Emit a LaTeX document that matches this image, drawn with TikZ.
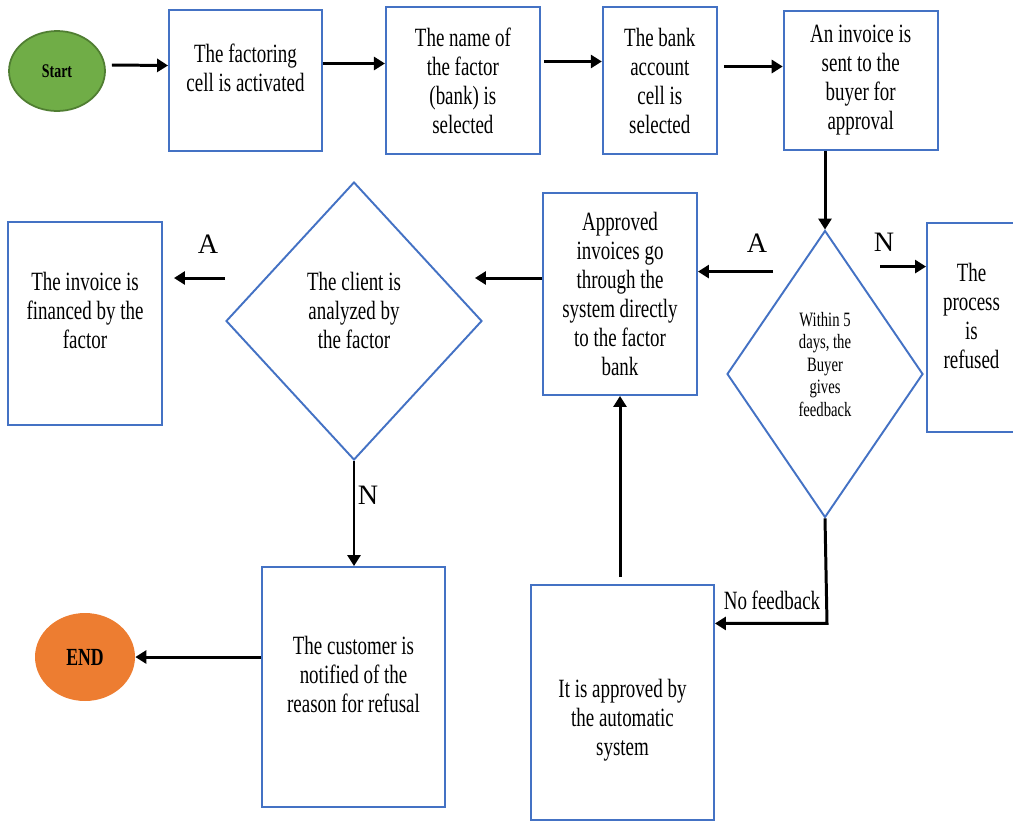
\documentclass[tikz,border=0pt]{standalone}
\usepackage{fontspec}
\setmainfont{Liberation Serif}[FakeStretch=0.72]
\newfontfamily\labfont{Liberation Serif}
\usepackage{tikz}
\usetikzlibrary{arrows.meta,positioning,calc,shapes.geometric}
\definecolor{edge}{HTML}{4472C4}
\definecolor{startc}{HTML}{70AD47}
\definecolor{startd}{HTML}{507E32}
\definecolor{endc}{HTML}{ED7D31}
\tikzset{
  >={Triangle[length=2.2mm,width=2.6mm]},
  box/.style={draw=edge,line width=1.1pt,rectangle,align=center,inner sep=2pt,font=\fontsize{15}{16.5}\selectfont},
  dia/.style={box,diamond,inner sep=0pt},
  term/.style={ellipse,inner sep=0pt,font=\bfseries},
  arr/.style={->,line width=1.7pt},
  lab/.style={font=\labfont\fontsize{16}{18}\selectfont,inner sep=1pt},
}
\begin{document}
\begin{tikzpicture}[x=0.02cm,y=-0.02cm]
\useasboundingbox (0,0) rectangle (1013,822);
% top row
\node[term,fill=startc,draw=startd,line width=1pt,minimum width=1.92cm,minimum height=1.6cm,font=\bfseries\fontsize{11}{13}\selectfont] (start) at (57,71) {Start};
\node[box,minimum width=3.06cm,minimum height=2.82cm] (cell) at (245.5,80.5) {The factoring\\cell is activated\rule[-0.52cm]{0pt}{0pt}};
\node[box,minimum width=3.08cm,minimum height=2.94cm,right=1.24cm of cell] (fname) {The name of\\the factor\\(bank) is\\selected};
\node[box,minimum width=2.28cm,minimum height=2.94cm,right=1.22cm of fname] (acct) {The bank\\account\\cell is\\selected};
\node[box,minimum width=3.08cm,minimum height=2.78cm,right=1.30cm of acct] (inv) {An invoice is\\sent to the\\buyer for\\approval};
% middle row
\node[dia,minimum width=3.92cm,minimum height=5.74cm,font=\fontsize{11.6}{12.8}\selectfont] (fb) at (825,374) {Within 5\\days, the\\Buyer\\gives\\feedback\rule[-0.40cm]{0pt}{0pt}};
\node[box,minimum width=1.78cm,minimum height=4.18cm] (refd) at (971.5,327.5) {The\\process\\is\\refused\rule[-0.48cm]{0pt}{0pt}};
\node[box,minimum width=3.08cm,minimum height=4.04cm] (appr) at (620,294) {Approved\\invoices go\\through the\\system directly\\to the factor\\bank};
\node[dia,minimum width=5.12cm,minimum height=5.56cm] (client) at (354,321) {The client is\\analyzed by\\the factor\rule[-0.44cm]{0pt}{0pt}};
\node[box,minimum width=3.08cm,minimum height=4.06cm] (fin) at (85,323.5) {The invoice is\\financed by the\\factor\rule[-0.52cm]{0pt}{0pt}};
% bottom row
\node[box,minimum width=3.66cm,minimum height=4.8cm] (notif) at (353.5,687) {The customer is\\notified of the\\reason for refusal\rule[-0.52cm]{0pt}{0pt}};
\node[term,fill=endc,minimum width=2cm,minimum height=1.76cm,font=\bfseries\fontsize{14}{16}\selectfont] (endn) at (85,657) {END};
\node[box,minimum width=3.66cm,minimum height=4.7cm] (auto) at (622.5,702.5) {\rule{0pt}{1.08cm}It is approved by\\the automatic\\system};
% connectors
\draw[arr] ($(start.east)+(6,-6)$) -- ($(cell.west)+(0,-15)$);
\draw[arr] ($(cell.east)+(0,-17)$) -- ($(fname.west)+(0,-17)$);
\draw[arr] ($(fname.east)+(3,-19)$) -- ($(acct.west)+(0,-19)$);
\draw[arr] ($(acct.east)+(6,-14)$) -- ($(inv.west)+(0,-14)$);
\draw[arr] (inv.south -| fb.north) -- (fb.north);
\coordinate (nN) at ($(fb.north)+(55,37)$);
\draw[arr] (nN) -- (nN -| refd.west);
\node[lab] (lN1) at (884,242) {N};
\coordinate (nA) at ($(fb.north)+(-52,42)$);
\draw[arr] (nA) -- (nA -| appr.east);
\node[lab] (lA1) at (757,243) {A};
\draw[arr] ($(appr.west)+(0,-16)$) -- ($(client.east)+(-8,-43)$);
\draw[arr] ($(client.west)+(0,-43)$) -- ($(fin.east)+(11,-45.5)$);
\node[lab] (lA2) at (208,244) {A};
\draw[arr] (client.south) -- (client.south |- notif.north);
\node[lab] (lN2) at (368,495) {N};
\draw[arr] (notif.west |- endn.east) -- (endn.east);
\draw[arr] ($(auto.north)+(-2.5,-7)$) -- (appr.south);
\coordinate (nf) at ($(fb.south)+(2,105)$);
\draw[arr] (fb.south) -- (nf) -- (nf -| auto.east);
\node[lab,font=\fontsize{15}{16.5}\selectfont] (lnf) at (772,600) {No feedback};
\end{tikzpicture}
\end{document}
